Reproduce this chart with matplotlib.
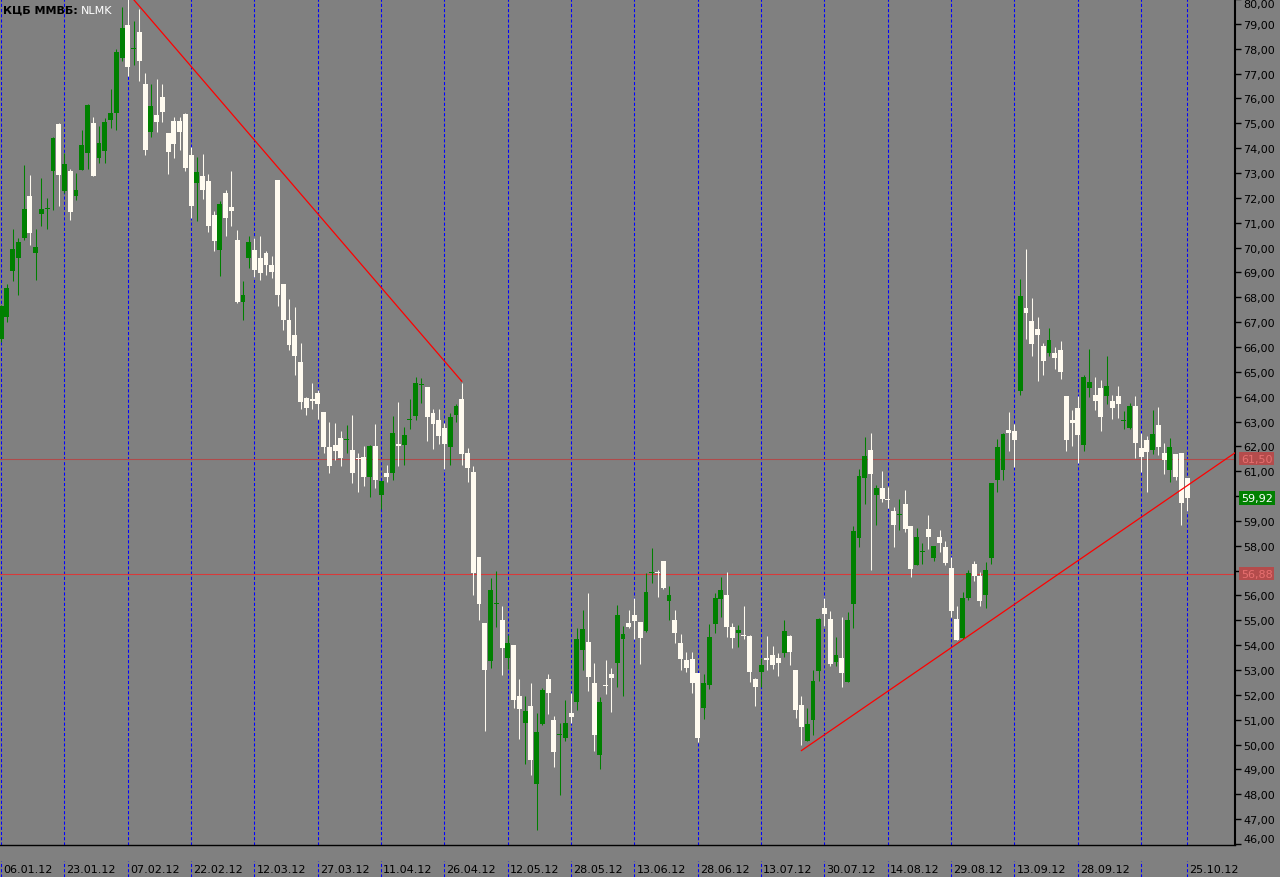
import matplotlib
matplotlib.use('Agg')
import matplotlib.pyplot as plt
import matplotlib.transforms as mtransforms
import numpy as np

# daily candles, NLMK on MICEX, 06.01.12 .. 25.10.12
opens = [66.30, 67.20, 69.06, 69.57, 70.37, 72.06, 69.78, 71.34, 71.54, 73.06,
         74.99, 72.27, 73.06, 72.07, 73.12, 73.80, 75.03, 73.60, 73.88, 75.15,
         75.41, 77.62, 78.95, 77.98, 78.67, 76.60, 74.65, 75.32, 76.04, 74.59,
         75.08, 75.08, 75.36, 73.71, 72.60, 72.88, 72.66, 71.30, 69.90, 72.18,
         71.62, 70.29, 67.81, 69.58, 69.89, 69.57, 69.77, 69.29, 72.70, 68.52,
         67.07, 66.49, 65.40, 63.95, 63.92, 64.15, 63.37, 61.97, 62.05, 62.33,
         62.26, 61.85, 61.53, 61.57, 60.77, 62.01, 60.05, 60.94, 60.94, 62.07,
         62.05, 63.07, 63.21, 64.48, 64.38, 63.35, 63.05, 62.73, 61.98, 63.27,
         63.90, 61.73, 60.96, 57.54, 54.88, 53.37, 55.66, 55.01, 53.50, 54.00,
         51.95, 50.88, 51.55, 48.40, 50.82, 52.64, 50.99, 50.39, 50.28, 51.27,
         51.70, 53.82, 54.13, 52.48, 49.59, 52.39, 52.85, 53.29, 54.26, 54.89,
         55.21, 54.93, 54.57, 56.90, 56.94, 57.38, 55.78, 55.01, 54.09, 53.40,
         53.44, 52.88, 51.47, 52.40, 54.85, 55.86, 56.02, 54.73, 54.49, 54.41,
         54.37, 52.64, 52.92, 53.48, 53.60, 53.48, 53.68, 54.37, 53.00, 51.59,
         50.16, 50.99, 52.96, 55.49, 55.05, 53.33, 53.48, 52.53, 55.64, 58.33,
         60.73, 61.84, 60.05, 60.32, 59.88, 59.39, 59.24, 59.67, 58.79, 57.23,
         57.74, 58.67, 57.51, 58.35, 57.95, 57.10, 55.05, 54.28, 55.89, 57.26,
         56.78, 56.03, 57.49, 60.65, 61.06, 62.65, 62.61, 64.22, 67.56, 67.03,
         66.71, 66.03, 65.75, 65.75, 65.87, 64.02, 63.05, 63.53, 62.06, 64.34,
         64.06, 64.34, 64.02, 63.82, 64.02, 63.03, 62.73, 63.62, 61.93, 62.25,
         61.86, 62.85, 61.73, 61.04, 61.69, 61.73, 60.72]
highs = [67.70, 68.52, 70.73, 70.40, 73.31, 72.90, 70.76, 72.81, 72.01, 74.44,
         75.00, 73.80, 73.14, 72.98, 74.73, 75.76, 75.24, 74.89, 75.22, 76.39,
         78.00, 79.66, 79.98, 79.11, 79.58, 77.03, 76.60, 76.80, 76.56, 74.62,
         75.26, 75.26, 75.40, 74.05, 73.63, 73.75, 72.95, 71.47, 71.86, 72.30,
         73.07, 70.69, 68.64, 70.45, 70.40, 70.45, 69.85, 69.65, 72.72, 68.55,
         67.92, 67.61, 66.16, 63.98, 64.54, 64.25, 63.40, 62.97, 62.94, 62.60,
         62.85, 63.25, 61.73, 62.02, 62.07, 62.88, 60.62, 61.25, 63.21, 63.78,
         62.77, 63.91, 64.81, 64.74, 64.40, 63.51, 63.50, 62.92, 63.36, 63.71,
         64.54, 61.95, 61.19, 57.56, 54.90, 56.70, 56.99, 55.57, 54.41, 54.02,
         52.64, 51.97, 52.49, 51.28, 52.28, 52.85, 51.15, 50.87, 51.79, 52.09,
         54.69, 55.41, 56.10, 53.28, 51.92, 53.40, 53.09, 55.61, 54.76, 55.41,
         55.90, 54.95, 56.90, 57.91, 57.04, 57.40, 56.38, 55.41, 54.45, 53.72,
         53.72, 52.90, 52.84, 54.85, 56.10, 56.74, 56.94, 54.89, 54.81, 55.57,
         54.40, 52.66, 53.50, 54.37, 53.96, 53.68, 55.01, 54.39, 53.02, 51.96,
         51.47, 53.00, 55.09, 55.90, 55.37, 54.31, 55.12, 55.33, 58.79, 61.08,
         62.37, 62.53, 60.44, 61.00, 60.36, 59.55, 59.88, 60.24, 58.81, 58.71,
         58.11, 59.22, 58.00, 58.63, 58.19, 57.54, 55.57, 56.13, 57.02, 57.38,
         56.94, 57.33, 60.54, 62.29, 62.53, 63.37, 62.89, 68.72, 69.93, 67.96,
         67.19, 66.15, 66.75, 65.99, 66.23, 64.04, 63.45, 64.02, 64.86, 65.91,
         64.78, 64.66, 65.63, 64.06, 64.42, 63.41, 63.74, 64.02, 62.53, 62.41,
         63.45, 63.57, 62.13, 62.33, 61.71, 61.75, 60.74]
lows = [66.20, 67.00, 68.65, 68.09, 70.30, 70.09, 68.68, 70.87, 70.73, 71.51,
        71.67, 72.21, 71.11, 71.90, 73.10, 73.14, 72.86, 73.39, 73.39, 74.81,
        74.73, 77.49, 76.90, 77.34, 76.70, 73.72, 74.44, 74.65, 75.07, 72.97,
        73.60, 73.92, 73.08, 71.19, 71.07, 71.94, 70.63, 69.86, 68.86, 70.47,
        70.87, 67.77, 67.10, 69.18, 68.82, 68.70, 68.90, 68.78, 67.65, 66.69,
        65.87, 64.88, 63.52, 63.25, 63.52, 63.12, 61.73, 60.94, 61.46, 61.22,
        61.74, 60.53, 60.17, 60.39, 59.98, 60.32, 59.47, 60.55, 60.65, 61.22,
        61.26, 62.68, 63.05, 63.75, 62.22, 61.89, 62.09, 61.07, 61.24, 62.99,
        61.26, 60.57, 56.03, 55.02, 50.56, 53.08, 54.72, 52.81, 53.04, 51.47,
        50.24, 49.23, 48.79, 46.58, 50.80, 51.24, 49.11, 47.99, 50.16, 50.88,
        51.40, 53.01, 52.17, 49.76, 49.03, 52.05, 51.32, 52.33, 51.97, 54.69,
        54.25, 53.24, 54.55, 56.51, 55.95, 56.26, 55.01, 54.09, 53.00, 52.92,
        52.07, 50.12, 51.03, 52.24, 54.49, 55.13, 54.33, 53.88, 53.93, 54.25,
        52.52, 51.57, 52.32, 53.00, 53.04, 52.76, 53.52, 53.20, 51.07, 50.00,
        50.14, 50.39, 52.56, 54.77, 53.16, 53.17, 52.33, 52.51, 54.71, 57.97,
        59.69, 57.03, 58.84, 59.78, 59.50, 57.96, 58.65, 58.56, 56.75, 57.21,
        57.27, 57.88, 57.39, 57.76, 57.23, 55.14, 54.20, 54.25, 55.81, 56.59,
        55.59, 55.51, 57.27, 60.17, 60.65, 61.81, 61.16, 64.06, 66.31, 65.63,
        64.62, 64.86, 65.63, 65.10, 64.70, 61.81, 62.01, 61.32, 61.81, 63.98,
        63.45, 62.61, 63.70, 63.09, 63.13, 62.69, 62.71, 61.52, 60.96, 60.16,
        61.69, 61.64, 60.88, 60.56, 60.64, 58.83, 59.39]
closes = [67.65, 68.39, 69.93, 70.24, 71.54, 70.58, 70.02, 71.56, 71.58, 74.39,
          72.92, 73.37, 71.43, 72.30, 74.14, 75.73, 72.88, 74.19, 75.07, 75.40,
          77.86, 78.85, 77.26, 78.04, 77.50, 73.92, 75.68, 75.05, 75.45, 73.84,
          74.17, 74.65, 73.20, 71.67, 73.03, 72.32, 70.87, 70.27, 71.74, 71.19,
          71.46, 67.81, 68.08, 70.21, 69.10, 68.98, 69.30, 69.02, 68.09, 67.09,
          66.07, 65.64, 63.79, 63.53, 63.83, 63.70, 61.97, 61.22, 61.82, 61.54,
          62.30, 60.94, 61.49, 60.77, 62.01, 60.65, 60.59, 60.77, 62.53, 62.03,
          62.45, 63.11, 64.54, 64.52, 63.19, 62.91, 62.41, 62.09, 63.17, 63.62,
          61.69, 61.12, 56.90, 55.67, 53.01, 56.21, 55.70, 53.90, 54.09, 51.81,
          51.45, 51.35, 49.39, 50.50, 52.19, 52.09, 49.72, 50.43, 50.87, 51.12,
          54.25, 54.65, 52.73, 50.40, 51.71, 52.35, 52.69, 55.21, 54.47, 54.73,
          54.97, 54.29, 56.14, 56.94, 56.90, 56.30, 56.02, 54.49, 53.44, 53.08,
          52.48, 50.27, 52.48, 54.33, 55.90, 56.22, 54.73, 54.29, 54.61, 54.37,
          52.92, 52.32, 53.20, 53.40, 53.20, 53.28, 54.57, 53.72, 51.39, 50.71,
          50.83, 52.56, 55.05, 55.25, 53.24, 53.59, 52.88, 55.01, 58.59, 60.80,
          61.60, 60.89, 60.32, 59.90, 59.84, 58.84, 59.28, 58.67, 57.07, 58.35,
          57.78, 58.36, 57.98, 58.12, 57.32, 55.38, 54.22, 55.89, 56.90, 56.79,
          55.79, 57.01, 60.52, 61.97, 62.49, 62.53, 62.25, 68.04, 67.35, 66.11,
          66.47, 65.42, 66.27, 65.55, 64.98, 62.25, 62.94, 62.45, 64.78, 64.58,
          63.82, 63.17, 64.42, 63.53, 63.70, 63.07, 63.62, 62.13, 61.56, 61.77,
          62.49, 61.97, 61.44, 61.97, 60.76, 59.71, 59.92]

# time scale labels (bar index -> date), the one at bar 198 is hidden by MT4
date_bars = [0, 11, 22, 33, 44, 55, 66, 77, 88, 99, 110, 121, 132, 143, 154,
             165, 176, 187, 198, 206]
date_labels = ['06.01.12', '23.01.12', '07.02.12', '22.02.12', '12.03.12',
               '27.03.12', '11.04.12', '26.04.12', '12.05.12', '28.05.12',
               '13.06.12', '28.06.12', '13.07.12', '30.07.12', '14.08.12',
               '29.08.12', '13.09.12', '28.09.12', '', '25.10.12']

# drawn objects
level_lines = [61.50, 56.88]
level_colors = ['#b04a4a', '#d83a3a']
last_price = 59.92
trend_down = ([23, 80], [79.98, 64.62])
trend_up = ([139, 206], [49.76, 60.42])

BG = '#808080'
UP = '#008000'
DOWN = '#fffbf0'

plt.rcParams['font.family'] = ['DejaVu Sans']
plt.rcParams['font.size'] = 8

fig = plt.figure(figsize=(12.8, 8.78), dpi=100, facecolor=BG)
ax = fig.add_axes([0, 32 / 878, 1235 / 1280, 846 / 878])
ax.set_facecolor(BG)
ax.set_xlim(-0.2, 214.3)
ax.set_ylim(45.96, 79.98)

o = np.array(opens); h = np.array(highs); l = np.array(lows); c = np.array(closes)
x = np.arange(len(o))
up = c >= o
cols = np.where(up, UP, DOWN)

ax.vlines(x, l, h, colors=cols, lw=0.75, zorder=3)
body_lo = np.minimum(o, c)
body_h = np.maximum(np.abs(c - o), 0.045)
ax.bar(x, body_h, bottom=body_lo, width=0.85, color=cols, linewidth=0, zorder=4)

# period separators
bx = mtransforms.blended_transform_factory(ax.transData, ax.transAxes)
for b in date_bars:
    ax.axvline(b, color='#0000ff', lw=0.75, linestyle=(0, (3, 2)), zorder=1)
ax.vlines(date_bars, -0.038, -0.019, transform=bx, color='#0000ff', lw=0.75,
          linestyle=(0, (3, 2)), clip_on=False)
lab_tr = mtransforms.offset_copy(bx, fig=fig, x=2, y=0, units='dots')
for b, s in zip(date_bars, date_labels):
    ax.text(b, -0.0285, s, transform=lab_tr, ha='left', va='center',
            color='black', clip_on=False)

# horizontal levels and trend lines
for lv, lc in zip(level_lines, level_colors):
    ax.axhline(lv, color=lc, lw=0.8, zorder=2)
ax.plot(trend_down[0], trend_down[1], color='#ff0000', lw=0.9, zorder=5)
slope = (trend_up[1][1] - trend_up[1][0]) / (trend_up[0][1] - trend_up[0][0])
x_end = ax.get_xlim()[1]
ax.plot([trend_up[0][0], x_end],
        [trend_up[1][0], trend_up[1][0] + slope * (x_end - trend_up[0][0])],
        color='#ff0000', lw=0.9, zorder=5)

# axes frame
for side in ['left', 'top']:
    ax.spines[side].set_visible(False)
ax.spines['right'].set_linewidth(1.5)
ax.spines['bottom'].set_linewidth(1.0)
ax.spines['right'].set_color('black')
ax.spines['bottom'].set_color('black')
ax.set_xticks([])
ax.yaxis.tick_right()
yt = list(range(46, 81))
ax.set_yticks(yt)
ax.set_yticklabels([f'{v},00' for v in yt])
ax.tick_params(axis='y', direction='out', length=4, width=1, color='black',
               pad=2, labelsize=8, labelcolor='black')
for t in ax.get_yticklabels():
    if t.get_text() == '80,00':
        t.set_va('top')
    elif t.get_text() == '46,00':
        t.set_va('bottom')

# price labels on the scale
ry = mtransforms.blended_transform_factory(ax.transAxes, ax.transData)
for lv in level_lines:
    ax.text(1.0049, lv, f'{lv:.2f}'.replace('.', ','), transform=ry, ha='left',
            va='center', color='#e87070', clip_on=False, zorder=10,
            bbox=dict(boxstyle='square,pad=0.15', fc='#b44c4c', ec='none'))
ax.text(1.0049, last_price, f'{last_price:.2f}'.replace('.', ','), transform=ry,
        ha='left', va='center', color='white', clip_on=False, zorder=10,
        bbox=dict(boxstyle='square,pad=0.15', fc=UP, ec='none'))

# title
fig.text(3 / 1280, 1 - 11 / 878, 'КЦБ ММВБ:', fontweight='bold', color='black',
         ha='left', va='center')
fig.text(81 / 1280, 1 - 11 / 878, 'NLMK', color='white', ha='left', va='center')

fig.savefig('out.png', dpi=100, facecolor=BG)
